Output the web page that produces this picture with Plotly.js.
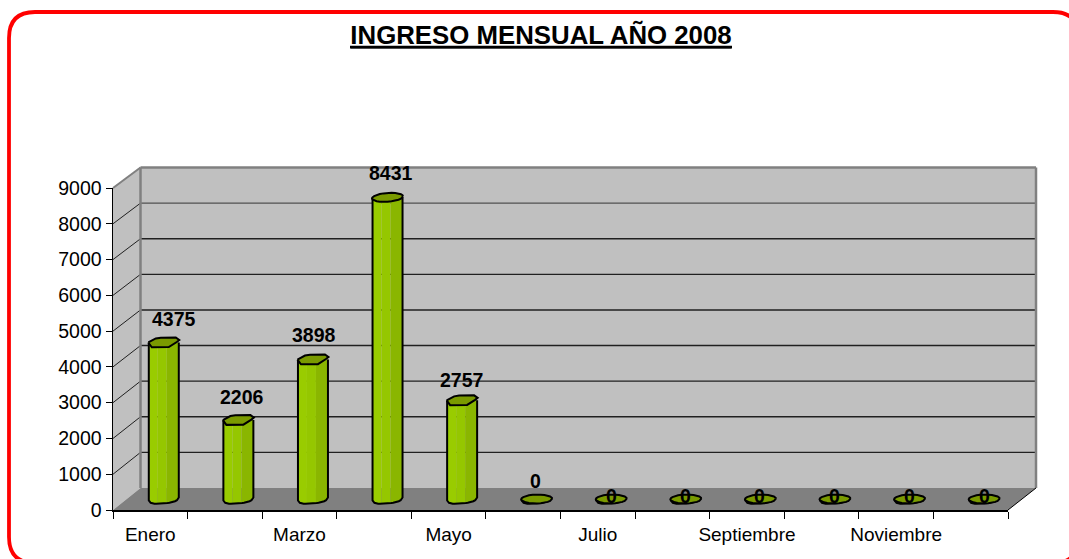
<!DOCTYPE html>
<html><head><meta charset="utf-8">
<script src="https://cdn.plot.ly/plotly-3.0.1.min.js"></script>
<style>html,body{margin:0;padding:0;background:#fff;overflow:hidden}</style>
</head><body><div id="chart" style="width:1069px;height:559px"></div>
<script>
const months = ['Enero','Febrero','Marzo','Abril','Mayo','Junio','Julio','Agosto','Septiembre','Octubre','Noviembre','Diciembre'];
const income = [4375,2206,3898,8431,2757,0,0,0,0,0,0,0];
const yTicks = [0,1000,2000,3000,4000,5000,6000,7000,8000,9000];
const chartTitle = 'INGRESO MENSUAL AÑO 2008';

const W=1069,H=559;
const px=x=>x/W, py=y=>1-y/H;
// front plane of the 3-D box and the back wall
const FL=113,FR=1008,FB=510,FT=188;
const BackL=140.5,BackR=1036,BackB=488,BackT=167.5;
// plane that holds the bar centres
const BL=FL+13.5,BR=FR+13.5,BB=499,BT=BB-(FB-FT);
const unitPerPx=9000/(FB-FT), catPerPx=12/(FR-FL);
const belowZero=300;

const FONT='"Liberation Sans", Arial, sans-serif';
// top of a column: offsets in pixels from the column centre (y up)
const hexTop=[[-15.5,0],[-8,4],[-3,4.8],[12,5],[15.5,2.5],[13,0.5],[5,-4.6],[-12,-4.8]];
const cap=(i,v)=>{
  const xs=[],ys=[];
  if(v>0&&v<5000){
    hexTop.concat([hexTop[0]]).forEach(o=>{xs.push(i+o[0]*catPerPx);ys.push(v+o[1]*unitPerPx);});
  } else {
    const a=15.5,b=4.4,tilt=v>0?0.07:0.02;
    for(let k=0;k<=24;k++){const t=k/24*2*Math.PI;
      const dx=a*Math.cos(t),dy=b*Math.sin(t)+dx*tilt;
      xs.push(i+dx*catPerPx);ys.push(v+dy*unitPerPx);}
  }
  return [xs,ys];
};
const lower=d=>(-4.4*Math.pow(Math.max(0,1-Math.pow(Math.abs(d)/15,3)),1/2)+d*0.1)*unitPerPx;
const join=(fn,arr)=>{const X=[],Y=[];arr.forEach((v,i)=>{const [a,b]=fn(i,v);X.push(...a,null);Y.push(...b,null);});return [X,Y];};

const stripes=[
 {from:-15,to:-6,color:'#99CC00'},
 {from:-6,to:3,color:'#95C700'},
 {from:3,to:15,color:'#8AB600'}];
const idx=months.map((_,i)=>i);
const traces=[{x:months,y:income.map(()=>null),xaxis:'x',yaxis:'y',type:'scatter',mode:'lines',hoverinfo:'skip',showlegend:false}];
stripes.forEach(s=>{
  traces.push({type:'bar',x:idx,y:income,xaxis:'x2',yaxis:'y2',width:(s.to-s.from)*catPerPx,offset:s.from*catPerPx,
    marker:{color:s.color,line:{width:0}},hoverinfo:'skip',showlegend:false});
  const [X,Y]=join((i)=>{const a=[],b=[];
    for(let k=0;k<=8;k++){const d=s.from+(s.to-s.from)*k/8;
      a.push(i+d*catPerPx);b.push(lower(d));}
    a.push(i+s.to*catPerPx,i+s.from*catPerPx);b.push(0,0);return [a,b];},income);
  traces.push({type:'scatter',mode:'lines',x:X,y:Y,xaxis:'x2',yaxis:'y2',fill:'toself',fillcolor:s.color,line:{width:0},hoverinfo:'skip',showlegend:false});
});
{const [X,Y]=join((i,v)=>{const a=[],b=[];
   a.push(i-15*catPerPx);b.push(v);
   for(let k=0;k<=16;k++){const d=-15+30*k/16;
     a.push(i+d*catPerPx);b.push(lower(d));}
   a.push(i+15*catPerPx);b.push(v);return [a,b];},income);
 traces.push({type:'scatter',mode:'lines',x:X,y:Y,xaxis:'x2',yaxis:'y2',line:{color:'#000',width:2},hoverinfo:'skip',showlegend:false});}
{const [X,Y]=join((i,v)=>cap(i,v),income);
 traces.push({type:'scatter',mode:'lines',x:X,y:Y,xaxis:'x2',yaxis:'y2',fill:'toself',fillcolor:'#7A9A00',line:{color:'#000',width:2},hoverinfo:'skip',showlegend:false});}

const labelShift=[[10,23],[4,23],[1,25],[3,24],[-1,20],[-1,18],[0,3],[0,3],[-1,3],[-1,3],[0,3],[0,3]];
const annotations=income.map((v,i)=>({xref:'x2',yref:'y2',x:i,y:v,text:String(v),showarrow:false,
  xshift:labelShift[i][0],yshift:labelShift[i][1],font:{family:FONT,size:19.5,color:'#000',weight:700},xanchor:'center',yanchor:'middle'}));

const L=(x0,y0,x1,y1,color,width)=>({type:'line',xref:'paper',yref:'paper',x0:px(x0),y0:py(y0),x1:px(x1),y1:py(y1),line:{color,width},layer:'below'});
const P=(pts,fill)=>({type:'path',xref:'paper',yref:'paper',
  path:'M'+pts.map(p=>px(p[0])+','+py(p[1])).join('L')+'Z',fillcolor:fill,line:{color:'rgba(0,0,0,0)',width:0},layer:'below'});
const shapes=[
  P([[FL,FT],[BackL,BackT],[BackL,BackB],[FL,FB]],'#C0C0C0'),
  P([[BackL,BackT],[BackR,BackT],[BackR,BackB],[BackL,BackB]],'#C0C0C0'),
  P([[FL,FB],[BackL,BackB],[BackR,BackB],[FR,FB]],'#808080'),
];
yTicks.forEach(t=>{ if(t===0||t===9000) return;
  const yf=FB-(FB-FT)*t/9000, yb=BackB-(BackB-BackT)*t/9000;
  shapes.push(L(FL,yf,BackL,yb,'#202020',1));
  shapes.push(L(BackL,yb,BackR,yb,t>=8000?'#505050':'#202020',1.4));
});
shapes.push(L(FL,FT,BackL,BackT,'#808080',2));
shapes.push(L(BackL,BackT,BackR,BackT,'#808080',2.5));
shapes.push(L(BackL,BackT,BackL,BackB,'#808080',2.5));
shapes.push(L(BackR,BackT,BackR,BackB,'#808080',2.5));
shapes.push(L(FR,FB,BackR,BackB,'#000',1));
shapes.push(L(350,47,732,47,'#000',2.6)); // heavier title underline
{const l=9,t=12,r=1079,b=563,c=26;
 const p=(x,y)=>px(x)+','+py(y);
 shapes.push({type:'path',xref:'paper',yref:'paper',layer:'below',fillcolor:'rgba(0,0,0,0)',line:{color:'#FF0000',width:3.8},
  path:`M${p(l,t+c)}Q${p(l,t)} ${p(l+c,t)}L${p(r-c,t)}Q${p(r,t)} ${p(r,t+c)}L${p(r,b-c)}Q${p(r,b)} ${p(r-c,b)}L${p(l+c,b)}Q${p(l,b)} ${p(l,b-c)}Z`});}

const layout={
  width:W,height:H,autosize:false,showlegend:false,
  margin:{l:0,r:0,t:0,b:0},paper_bgcolor:'#fff',plot_bgcolor:'rgba(0,0,0,0)',
  title:{text:'<u>'+chartTitle+'</u>',x:541/W,xanchor:'center',y:1-35/H,yanchor:'middle',font:{family:FONT,size:25.8,color:'#000',weight:700}},
  xaxis:{domain:[px(FL),px(FR)],anchor:'y',type:'category',categoryorder:'array',categoryarray:months,range:[-0.5,11.5],
    tickson:'boundaries',ticks:'outside',ticklen:7,tickcolor:'#000',tickwidth:1,ticklabelstep:2,tickangle:0,
    tickfont:{family:FONT,size:19,color:'#000'},showgrid:false,zeroline:false,showline:true,linecolor:'#000',linewidth:1.5,fixedrange:true,ticklabelstandoff:7},
  yaxis:{domain:[py(FB),py(FT)],anchor:'x',range:[0,9000],tickvals:yTicks,ticktext:yTicks.map(String),ticks:'outside',ticklen:6,tickcolor:'#000',tickwidth:1,
    tickfont:{family:FONT,size:19.5,color:'#000'},showgrid:false,zeroline:false,showline:true,linecolor:'#000',linewidth:1.5,fixedrange:true},
  xaxis2:{domain:[px(BL),px(BR)],anchor:'y2',range:[-0.5,11.5],visible:false,fixedrange:true},
  yaxis2:{domain:[py(BB+belowZero*(FB-FT)/9000),py(BT)],anchor:'x2',range:[-belowZero,9000],visible:false,fixedrange:true},
  barmode:'overlay',
  shapes,annotations
};
Plotly.newPlot('chart',traces,layout,{displayModeBar:false,staticPlot:true});
</script></body></html>
